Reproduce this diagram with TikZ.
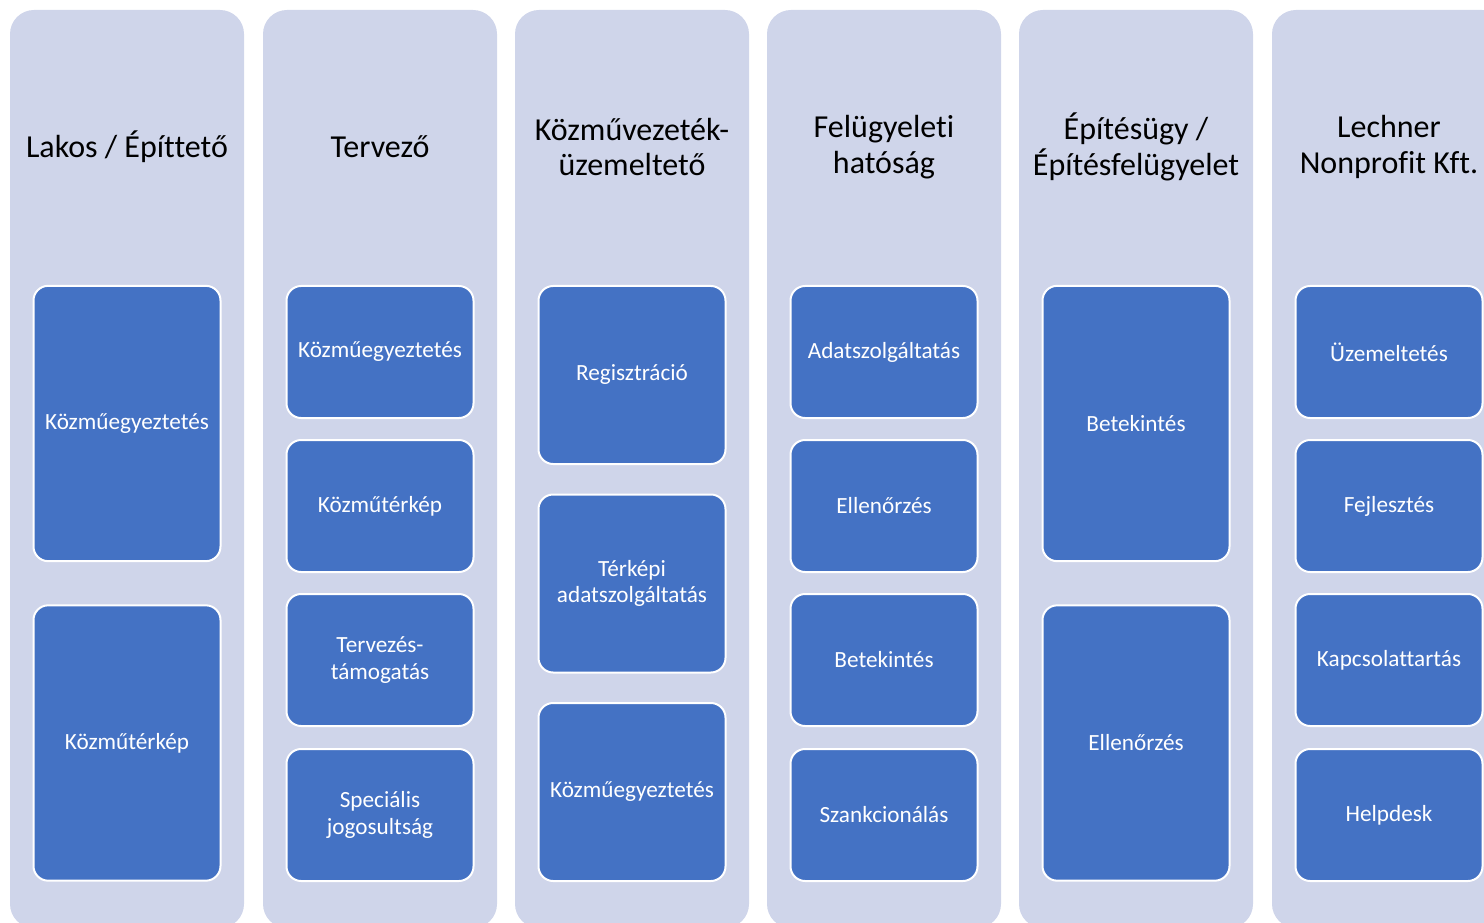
\documentclass[tikz,border=0pt]{standalone}
\usepackage{fontspec}
\setmainfont[Ligatures={NoCommon}]{Carlito}
\usetikzlibrary{positioning}

\definecolor{lane}{HTML}{CFD5EA}
\definecolor{task}{HTML}{4472C4}

\begin{document}
\begin{tikzpicture}[x=0.75pt, y=-0.75pt,
  lanebox/.style = {fill=lane, rounded corners=18pt, minimum width=175.5pt, minimum height=688.5pt, inner sep=0pt},
  lanetitle/.style = {align=center, font=\fontsize{24}{26.5}\selectfont, text=black},
  taskbox/.style = {fill=task, draw=white, line width=1.5pt, rounded corners=11pt, minimum width=140.25pt, align=center, text=white, font=\fontsize{17.4}{20}\selectfont, inner sep=0pt},
  tall/.style = {minimum height=206.5pt},
  mid/.style = {minimum height=133.5pt},
  short/.style = {minimum height=99pt}]
\useasboundingbox (0,0) rectangle (1484,923);
\clip (0,0) rectangle (1484,923);
% lanes
\node[lanebox] (lane1) at (127,469) {};
\node[lanebox] (lane2) at (380,469) {};
\node[lanebox] (lane3) at (632,469) {};
\node[lanebox] (lane4) at (884,469) {};
\node[lanebox] (lane5) at (1136,469) {};
\node[lanebox] (lane6) at (1389,469) {};
% titles
\node[lanetitle] (t1) at (127,147) {Lakos / Építtető};
\node[lanetitle] (t2) at (380,147) {Tervező};
\node[lanetitle] (t3) at (632,147) {Közművezeték-\\üzemeltető};
\node[lanetitle] (t4) at (884,147) {Felügyeleti\\hatóság};
\node[lanetitle] (t5) at (1136,147) {Építésügy /\\Építésfelügyelet};
\node[lanetitle] (t6) at (1389,147) {Lechner\\Nonprofit Kft.};
% Lakos
\node[taskbox, tall] (a1) at (127,423.5) {Közműegyeztetés};
\node[taskbox, tall] (a2) at (127,743) {Közműtérkép};
% Tervezo
\node[taskbox, short] (b1) at (380,352) {Közműegyeztetés};
\node[taskbox, short] (b2) at (380,506) {Közműtérkép};
\node[taskbox, short] (b3) at (380,660) {Tervezés-\\támogatás};
\node[taskbox, short] (b4) at (380,815) {Speciális\\jogosultság};
% Kozmuvezetek-uzemelteto
\node[taskbox, mid] (c1) at (632,375) {Regisztráció};
\node[taskbox, mid] (c2) at (632,583.5) {Térképi\\adatszolgáltatás};
\node[taskbox, mid] (c3) at (632,792) {Közműegyeztetés};
% Felugyeleti hatosag
\node[taskbox, short] (d1) at (884,352) {Adatszolgáltatás};
\node[taskbox, short] (d2) at (884,506) {Ellenőrzés};
\node[taskbox, short] (d3) at (884,660) {Betekintés};
\node[taskbox, short] (d4) at (884,815) {Szankcionálás};
% Epitesugy
\node[taskbox, tall] (e1) at (1136,423.5) {Betekintés};
\node[taskbox, tall] (e2) at (1136,743) {Ellenőrzés};
% Lechner
\node[taskbox, short] (f1) at (1389,352) {Üzemeltetés};
\node[taskbox, short] (f2) at (1389,506) {Fejlesztés};
\node[taskbox, short] (f3) at (1389,660) {Kapcsolattartás};
\node[taskbox, short] (f4) at (1389,815) {Helpdesk};
\end{tikzpicture}
\end{document}
